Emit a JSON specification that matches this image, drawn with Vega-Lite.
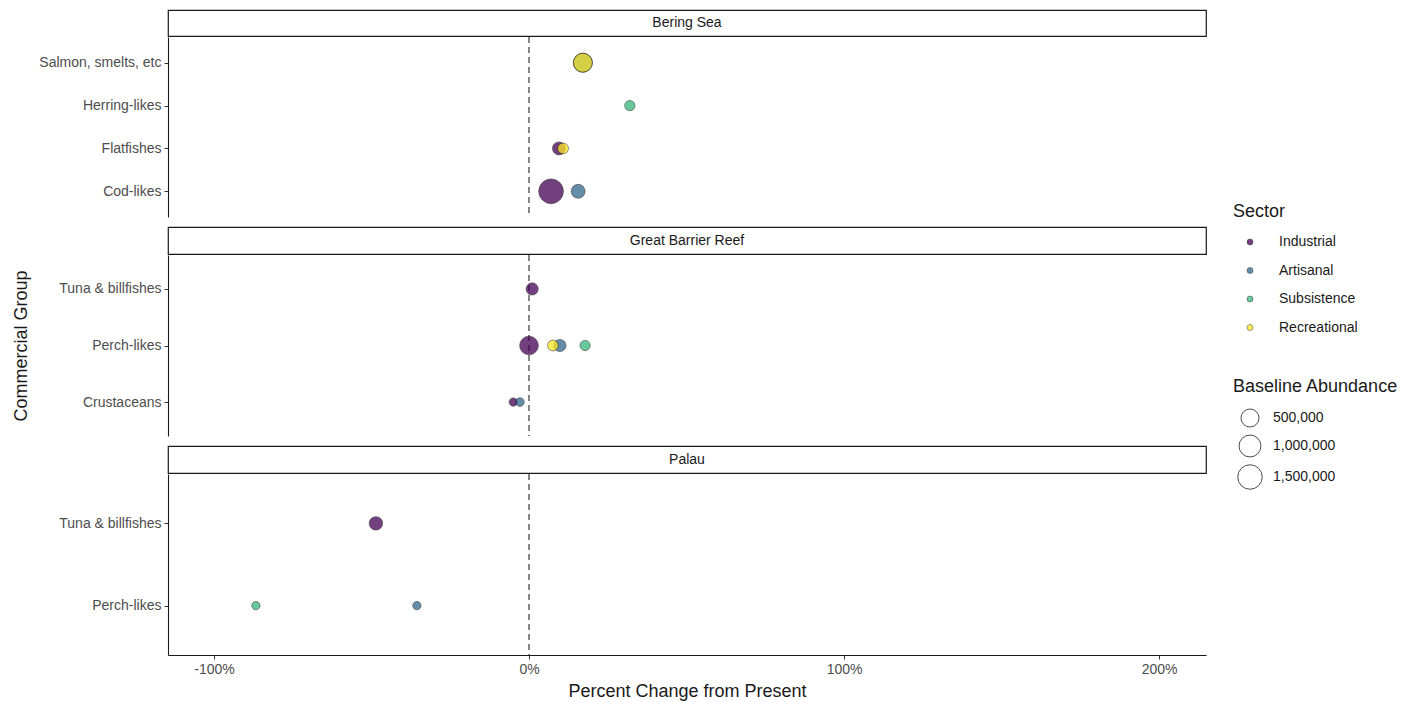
{
  "$schema": "https://vega.github.io/schema/vega-lite/v6.json",
  "padding": {"left": 12, "top": 9, "right": 5, "bottom": 2},
  "background": "white",
  "config": {
    "font": "Liberation Sans",
    "view": {"stroke": null},
    "axis": {"labelFontSize": 14, "labelColor": "#4d4d4d", "titleFontSize": 18, "titleFontWeight": "normal", "titleColor": "#1a1a1a", "domainColor": "#1a1a1a", "domainWidth": 1.1, "tickColor": "#333333", "tickSize": 4, "grid": false, "labelPadding": 3},
    "legend": {"titleFontSize": 18, "titleFontWeight": "normal", "titleColor": "#1a1a1a", "labelFontSize": 14, "labelColor": "#1a1a1a", "padding": 0}
  },
  "datasets": {
    "fish": [
      {"region": "Bering Sea", "group": "Salmon, smelts, etc", "sector": "Artisanal", "pct": 17.1, "abundance": 600000},
      {"region": "Bering Sea", "group": "Salmon, smelts, etc", "sector": "Recreational", "pct": 17.1, "abundance": 600000},
      {"region": "Bering Sea", "group": "Herring-likes", "sector": "Subsistence", "pct": 32.0, "abundance": 85000},
      {"region": "Bering Sea", "group": "Flatfishes", "sector": "Industrial", "pct": 9.5, "abundance": 170000},
      {"region": "Bering Sea", "group": "Flatfishes", "sector": "Recreational", "pct": 10.8, "abundance": 100000},
      {"region": "Bering Sea", "group": "Cod-likes", "sector": "Industrial", "pct": 7.0, "abundance": 1550000},
      {"region": "Bering Sea", "group": "Cod-likes", "sector": "Artisanal", "pct": 15.6, "abundance": 210000},
      {"region": "Great Barrier Reef", "group": "Tuna & billfishes", "sector": "Industrial", "pct": 1.0, "abundance": 140000},
      {"region": "Great Barrier Reef", "group": "Perch-likes", "sector": "Industrial", "pct": 0.0, "abundance": 570000},
      {"region": "Great Barrier Reef", "group": "Perch-likes", "sector": "Artisanal", "pct": 9.8, "abundance": 140000},
      {"region": "Great Barrier Reef", "group": "Perch-likes", "sector": "Subsistence", "pct": 17.8, "abundance": 85000},
      {"region": "Great Barrier Reef", "group": "Perch-likes", "sector": "Recreational", "pct": 7.6, "abundance": 100000},
      {"region": "Great Barrier Reef", "group": "Crustaceans", "sector": "Industrial", "pct": -5.0, "abundance": 50000},
      {"region": "Great Barrier Reef", "group": "Crustaceans", "sector": "Artisanal", "pct": -2.9, "abundance": 55000},
      {"region": "Palau", "group": "Tuna & billfishes", "sector": "Industrial", "pct": -48.6, "abundance": 190000},
      {"region": "Palau", "group": "Perch-likes", "sector": "Subsistence", "pct": -86.7, "abundance": 50000},
      {"region": "Palau", "group": "Perch-likes", "sector": "Artisanal", "pct": -35.6, "abundance": 50000}
    ]
  },
  "spacing": 8,
  "vconcat": [
    {
      "spacing": 1,
      "bounds": "flush",
      "vconcat": [
        {
          "width": 1038, "height": 26,
          "view": {"stroke": "#1a1a1a", "strokeWidth": 1.2},
          "data": {"values": [{"region": "Bering Sea"}]},
          "mark": {"type": "text", "fontSize": 14, "color": "#1a1a1a"},
          "encoding": {"text": {"field": "region"}}
        },
        {
          "width": 1038, "height": 180,
          "layer": [
            {
              "data": {"values": [{"ref": 0}]},
              "mark": {"type": "rule", "strokeDash": [6, 4], "color": "#5e5e5e", "strokeWidth": 1.5},
              "encoding": {"x": {"field": "ref", "type": "quantitative", "scale": {"domain": [-114.6, 214.9], "nice": false, "zero": false}, "axis": null}}
            },
            {
              "data": {"name": "fish"},
              "transform": [{"filter": "datum.region === 'Bering Sea'"}],
              "mark": {"type": "point", "filled": true, "opacity": 0.75, "stroke": "#000000", "strokeWidth": 0.8, "strokeOpacity": 0.75},
              "encoding": {
                "x": {"field": "pct", "type": "quantitative", "scale": {"domain": [-114.6, 214.9], "nice": false, "zero": false}, "axis": null},
                "y": {"field": "group", "type": "nominal", "scale": {"type": "point", "domain": ["Salmon, smelts, etc", "Herring-likes", "Flatfishes", "Cod-likes"], "padding": 0.6}, "axis": {"title": null}},
                "color": {"field": "sector", "type": "nominal", "title": "Sector", "scale": {"domain": ["Industrial", "Artisanal", "Subsistence", "Recreational"], "range": ["#440154", "#31688E", "#35B779", "#FDE725"]}, "legend": {"orient": "none", "legendX": 1065, "legendY": 193, "symbolSize": 36, "symbolOffset": 10, "labelOffset": 22, "rowPadding": 14.5, "titlePadding": 14, "symbolOpacity": 0.75, "symbolStrokeColor": "#000000", "symbolStrokeWidth": 0.5}},
                "size": {"field": "abundance", "type": "quantitative", "title": "Baseline Abundance", "scale": {"type": "sqrt", "domain": [50000, 1550000], "range": [69, 610], "zero": false}, "legend": {"orient": "none", "legendX": 1065, "legendY": 368, "values": [500000, 1000000, 1500000], "format": ",d", "symbolOffset": 4, "labelOffset": 10, "rowPadding": 2.5, "titlePadding": 12, "symbolFillColor": "white", "symbolStrokeColor": "#4d4d4d", "symbolStrokeWidth": 1, "symbolOpacity": 1}}
              }
            }
          ]
        }
      ]
    },
    {
      "spacing": 1,
      "bounds": "flush",
      "vconcat": [
        {
          "width": 1038, "height": 27,
          "view": {"stroke": "#1a1a1a", "strokeWidth": 1.2},
          "data": {"values": [{"region": "Great Barrier Reef"}]},
          "mark": {"type": "text", "fontSize": 14, "color": "#1a1a1a"},
          "encoding": {"text": {"field": "region"}}
        },
        {
          "width": 1038, "height": 181,
          "layer": [
            {
              "data": {"values": [{"ref": 0}]},
              "mark": {"type": "rule", "strokeDash": [6, 4], "color": "#5e5e5e", "strokeWidth": 1.5},
              "encoding": {"x": {"field": "ref", "type": "quantitative", "scale": {"domain": [-114.6, 214.9], "nice": false, "zero": false}, "axis": null}}
            },
            {
              "data": {"name": "fish"},
              "transform": [{"filter": "datum.region === 'Great Barrier Reef'"}],
              "mark": {"type": "point", "filled": true, "opacity": 0.75, "stroke": "#000000", "strokeWidth": 0.8, "strokeOpacity": 0.75},
              "encoding": {
                "x": {"field": "pct", "type": "quantitative", "scale": {"domain": [-114.6, 214.9], "nice": false, "zero": false}, "axis": null},
                "y": {"field": "group", "type": "nominal", "scale": {"type": "point", "domain": ["Tuna & billfishes", "Perch-likes", "Crustaceans"], "padding": 0.6}, "axis": {"title": "Commercial Group", "titlePadding": 28}},
                "color": {"field": "sector", "type": "nominal", "title": "Sector"},
                "size": {"field": "abundance", "type": "quantitative", "title": "Baseline Abundance", "legend": {"orient": "none", "legendX": 1065, "legendY": 368, "values": [500000, 1000000, 1500000], "format": ",d", "symbolOffset": 4, "labelOffset": 10, "rowPadding": 2.5, "titlePadding": 12, "symbolFillColor": "white", "symbolStrokeColor": "#4d4d4d", "symbolStrokeWidth": 1, "symbolOpacity": 1}}
              }
            }
          ]
        }
      ]
    },
    {
      "spacing": 1,
      "bounds": "flush",
      "vconcat": [
        {
          "width": 1038, "height": 27,
          "view": {"stroke": "#1a1a1a", "strokeWidth": 1.2},
          "data": {"values": [{"region": "Palau"}]},
          "mark": {"type": "text", "fontSize": 14, "color": "#1a1a1a"},
          "encoding": {"text": {"field": "region"}}
        },
        {
          "width": 1038, "height": 181,
          "layer": [
            {
              "data": {"values": [{"ref": 0}]},
              "mark": {"type": "rule", "strokeDash": [6, 4], "color": "#5e5e5e", "strokeWidth": 1.5},
              "encoding": {"x": {"field": "ref", "type": "quantitative", "scale": {"domain": [-114.6, 214.9], "nice": false, "zero": false}, "axis": {"title": "Percent Change from Present", "values": [-100, 0, 100, 200], "labelExpr": "datum.value + '%'", "titlePadding": 6}}}
            },
            {
              "data": {"name": "fish"},
              "transform": [{"filter": "datum.region === 'Palau'"}],
              "mark": {"type": "point", "filled": true, "opacity": 0.75, "stroke": "#000000", "strokeWidth": 0.8, "strokeOpacity": 0.75},
              "encoding": {
                "x": {"field": "pct", "type": "quantitative", "scale": {"domain": [-114.6, 214.9], "nice": false, "zero": false}, "axis": {"title": "Percent Change from Present", "values": [-100, 0, 100, 200], "labelExpr": "datum.value + '%'", "titlePadding": 6}},
                "y": {"field": "group", "type": "nominal", "scale": {"type": "point", "domain": ["Tuna & billfishes", "Perch-likes"], "padding": 0.6}, "axis": {"title": null}},
                "color": {"field": "sector", "type": "nominal", "title": "Sector"},
                "size": {"field": "abundance", "type": "quantitative", "title": "Baseline Abundance", "legend": {"orient": "none", "legendX": 1065, "legendY": 368, "values": [500000, 1000000, 1500000], "format": ",d", "symbolOffset": 4, "labelOffset": 10, "rowPadding": 2.5, "titlePadding": 12, "symbolFillColor": "white", "symbolStrokeColor": "#4d4d4d", "symbolStrokeWidth": 1, "symbolOpacity": 1}}
              }
            }
          ]
        }
      ]
    }
  ]
}
